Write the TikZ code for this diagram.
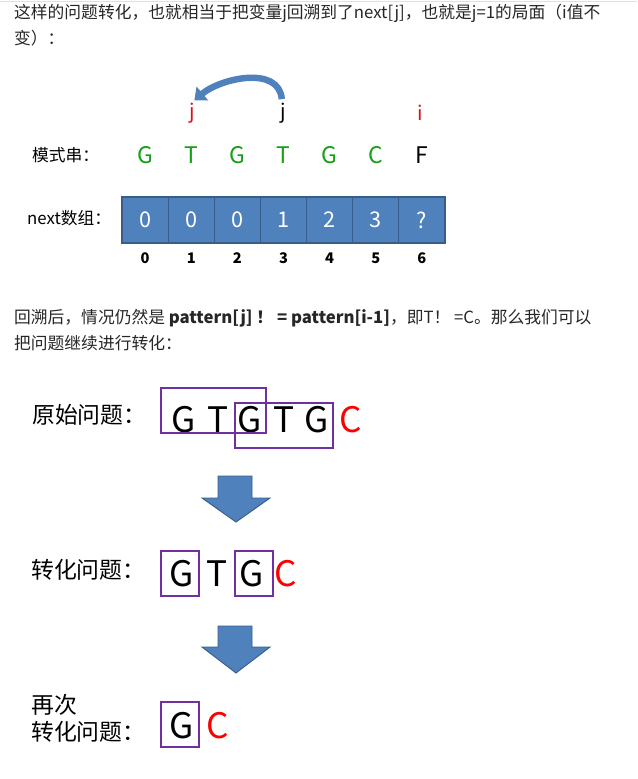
\documentclass[tikz,border=0pt]{standalone}
\usepackage{fontspec}
\setmainfont{Noto Sans CJK SC}
\usetikzlibrary{arrows.meta,positioning}
\definecolor{CellBlue}{HTML}{4F81BD}
\definecolor{CellEdge}{HTML}{385D8A}
\definecolor{WinPurple}{HTML}{7030A0}
\definecolor{PatGreen}{HTML}{16A016}
\definecolor{PtrRed}{HTML}{E01010}
\definecolor{BodyText}{HTML}{262626}

\begin{document}
\begin{tikzpicture}[x=0.03cm,y=-0.03cm]
    \tikzset{body/.style={anchor=west,inner sep=0pt,text=BodyText,font=\fontsize{14.3}{17}\selectfont},
      lbl/.style={anchor=west,inner sep=0pt,font=\fontsize{14.3}{17}\selectfont},
      pat/.style={inner sep=0pt,text=PatGreen,font=\fontsize{19.5}{22}\selectfont},
      ptr/.style={inner sep=0pt,font=\fontsize{17}{20}\selectfont},
      cell/.style={draw=CellEdge,fill=CellBlue,line width=1pt,minimum width=1.384cm,
        minimum height=1.38cm,inner sep=0pt,text=white,font=\fontsize{18.5}{21}\selectfont},
      idx/.style={inner sep=0pt,font=\fontsize{12.5}{15}\selectfont\bfseries},
      big/.style={inner sep=0pt,font=\fontsize{30}{33}\selectfont},
      cn/.style={anchor=west,inner sep=0pt,font=\fontsize{19.5}{23}\selectfont},
      win/.style={draw=WinPurple,line width=2.2pt},
      blk/.style={fill=CellBlue,draw=CellEdge,line width=0.8pt}}
    \useasboundingbox (0,0) rectangle (637,779);
    \draw[black!12,line width=0.6pt] (0,1) -- (637,1);

    % text above the first picture
    \node[body] (t1) at (14,13)
      {这样的问题转化，也就相当于把变量j回溯到了next[j]，也就是j=1的局面（i值不};
    \node[body] (t2) at (14,38) {变）：};

    % pattern string and next array
    \node[lbl] (mode) at (32,155) {模式串：};
    \node[lbl] (nextlbl) at (27,218) {next数组：};
    \foreach \v [count=\k from 0] in {0,0,0,1,2,3,?}
      \node[cell] (c\k) at ({145.07+46.14*\k},220) {\v};
    \foreach \k in {0,...,6}
      \node[idx] (n\k) at ({145.07+46.14*\k},258) {\k};
    \foreach \ch [count=\k from 0] in {G,T,G,T,G,C}
      \node[pat] (p\k) at ({145.07+46.14*\k},155) {\ch};
    \node[pat,text=black] (p6) at ({145.07+46.14*6},155) {F};
    \node[ptr,text=PtrRed] (jr) at (192,113) {j};
    \node[ptr] (jb) at (283,113) {j};
    \node[ptr,text=PtrRed] (iv) at (420,113) {i};
    \draw[CellBlue,line width=5.5pt,-{Triangle[width=15pt,length=9pt]}]
      ([xshift=-1pt,yshift=3pt]jb.north) to[out=95,in=40] ([xshift=2pt,yshift=2pt]jr.north);

    % text between the pictures
    \node[body] (t3) at (14,318)
      {回溯后，情况仍然是 \textbf{pattern[j] ！ = pattern[i-1]}，即T！ =C。那么我们可以};
    \node[body] (t4) at (14,343) {把问题继续进行转化：};

    % original problem
    \node[cn] (q1) at (32,415) {原始问题：};
    \foreach \ch/\x [count=\k] in {G/184,T/218,G/250,T/284,G/317}
      \node[big] (a\k) at (\x,420) {\ch};
    \node[big,text=red] (a6) at (351,420) {C};
    \draw[win] (161,388) rectangle (266,433);
    \draw[win] (235,403) rectangle (333,448);

    \draw[blk] (218,476) -- (252,476) -- (252,498) -- (270,498) -- (236,522)
      -- (202,498) -- (218,498) -- cycle;

    % first transformation
    \node[cn] (q2) at (31,570) {转化问题：};
    \foreach \ch/\x [count=\k] in {G/182,T/217,G/252}
      \node[big] (b\k) at (\x,574) {\ch};
    \node[big,text=red] (b4) at (286,574) {C};
    \draw[win] (161,551) rectangle (199,596);
    \draw[win] (235,551) rectangle (273,596);

    \draw[blk] (218,626) -- (252,626) -- (252,647) -- (270,647) -- (236,673)
      -- (202,647) -- (218,647) -- cycle;

    % second transformation
    \node[cn] (q3) at (31,705) {再次};
    \node[cn] (q4) at (31,732) {转化问题：};
    \node[big] (d1) at (182,726) {G};
    \node[big,text=red] (d2) at (218,726) {C};
    \draw[win] (161,702) rectangle (199,747);
  \end{tikzpicture}
\end{document}
